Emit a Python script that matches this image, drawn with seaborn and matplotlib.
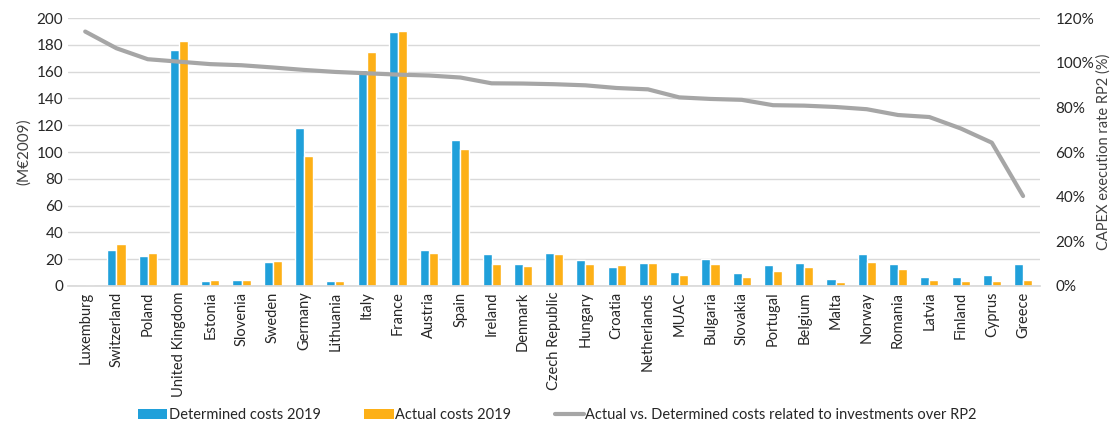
import numpy as np
import pandas as pd
import matplotlib
matplotlib.use("Agg")
import matplotlib.pyplot as plt
import seaborn as sns
from matplotlib.patches import Patch
from matplotlib.lines import Line2D
from matplotlib.ticker import PercentFormatter

countries = ["Luxemburg", "Switzerland", "Poland", "United Kingdom", "Estonia", "Slovenia",
             "Sweden", "Germany", "Lithuania", "Italy", "France", "Austria", "Spain",
             "Ireland", "Denmark", "Czech Republic", "Hungary", "Croatia", "Netherlands",
             "MUAC", "Bulgaria", "Slovakia", "Portugal", "Belgium", "Malta", "Norway",
             "Romania", "Latvia", "Finland", "Cyprus", "Greece"]
determined = [0.0, 27.2, 22.2, 176.3, 3.7, 4.7, 18.0, 117.7, 3.7, 161.3, 189.5, 26.7, 109.0,
              23.7, 16.7, 24.7, 19.7, 14.5, 17.0, 10.5, 20.2, 10.0, 15.5, 17.5, 5.0, 23.7,
              16.5, 6.5, 7.0, 8.0, 16.5]
actual = [1.0, 31.2, 24.4, 182.8, 4.7, 4.7, 18.5, 96.8, 3.7, 175.0, 190.5, 24.4, 102.2,
          16.2, 15.2, 24.2, 16.2, 15.5, 17.0, 8.5, 16.7, 6.5, 11.0, 14.0, 3.2, 18.0,
          13.0, 4.2, 3.7, 3.7, 4.2]
rate = [114.0, 106.5, 101.6, 100.5, 99.4, 98.9, 97.9, 96.8, 95.9, 95.3, 94.7, 94.3, 93.4,
        90.8, 90.7, 90.4, 89.9, 88.7, 88.1, 84.5, 83.8, 83.4, 81.0, 80.8, 80.2, 79.2,
        76.6, 75.7, 70.6, 64.2, 40.3]
series_names = ["Determined costs 2019", "Actual costs 2019"]
line_name = "Actual vs. Determined costs related to investments over RP2"

blue = "#20A0DA"
orange = "#FDB017"
grey = "#A6A6A6"

sns.set_theme(style="white")
plt.rcParams['font.family'] = ['Lato', 'DejaVu Sans']

df = pd.DataFrame({
    "country": countries * 2,
    "value": determined + actual,
    "series": [series_names[0]] * len(countries) + [series_names[1]] * len(countries),
})

fig = plt.figure(figsize=(11.15, 4.32), dpi=100)
ax = fig.add_axes([0.061, 0.338, 0.872, 0.62])

sns.barplot(data=df, x="country", y="value", hue="series", order=countries,
            hue_order=series_names, palette=[blue, orange], width=0.58,
            gap=0.0, ax=ax, legend=False, saturation=1)

ax.set_ylim(0, 200)
ax.set_yticks(np.arange(0, 201, 20))
ax.yaxis.grid(True, color="#D9D9D9", linewidth=1.0)
ax.set_axisbelow(True)
ax.set_xlim(-0.55, len(countries) - 0.45)
for s in ["top", "right", "left"]:
    ax.spines[s].set_visible(False)
ax.spines["bottom"].set_color("#D9D9D9")
ax.set_xlabel("")
ax.set_ylabel("(M€2009)", fontsize=11, color="#404040")
ax.tick_params(axis="x", labelrotation=90, labelsize=10.5, colors="#262626", length=0, pad=4)
ax.tick_params(axis="y", labelsize=11, colors="#262626", length=0)

ax2 = ax.twinx()
sns.lineplot(x=np.arange(len(countries)), y=rate, ax=ax2, color=grey, linewidth=3, legend=False)
ax2.set_ylim(0, 120)
ax2.set_yticks(np.arange(0, 121, 20))
ax2.yaxis.set_major_formatter(PercentFormatter(decimals=0))
ax2.tick_params(axis="y", labelsize=11, colors="#262626", length=0, pad=11)
ax2.set_ylabel("CAPEX execution rate RP2 (%)", fontsize=10.5, color="#404040")
ax2.yaxis.set_label_coords(1.058, 0.5)
for s in ["top", "right", "left", "bottom"]:
    ax2.spines[s].set_visible(False)
ax2.grid(False)
ax2.set_xlim(-0.55, len(countries) - 0.45)

handles = [Patch(facecolor=blue, edgecolor="none"),
           Patch(facecolor=orange, edgecolor="none"),
           Line2D([0], [0], color=grey, linewidth=3)]
fig.legend(handles, series_names + [line_name], loc="center", bbox_to_anchor=(0.5, 0.04),
           ncol=3, frameon=False, fontsize=10.5, handlelength=2.0, handleheight=0.7,
           columnspacing=3.0, handletextpad=0.1)

fig.savefig("out.png", dpi=100)
